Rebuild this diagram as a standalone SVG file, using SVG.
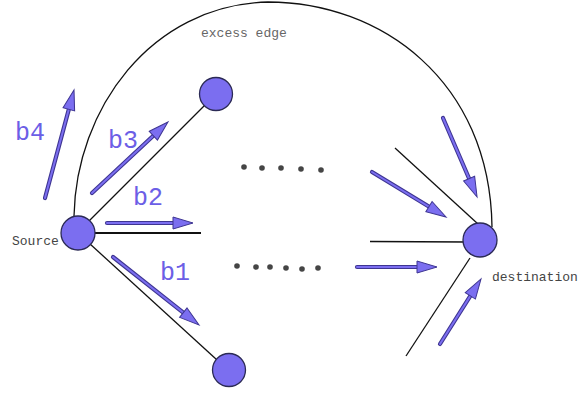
<svg xmlns="http://www.w3.org/2000/svg" width="581" height="393" viewBox="0 0 581 393">
<style>
.node{fill:#7b6ef0;stroke:#2b2a55;stroke-width:1.3}
.edge{fill:none;stroke:#111;stroke-width:1.3}
.shaft{stroke:#3e3592;stroke-width:4.2;stroke-linecap:round}
.inner{stroke:#7b6ef0;stroke-width:2;stroke-linecap:round}
.lbl{font-family:"Liberation Mono","DejaVu Sans Mono",monospace;font-size:25px;fill:#6c5ee6}
.txt{font-family:"Liberation Mono","DejaVu Sans Mono",monospace;font-size:13px;fill:#444}
.dot{fill:#454545}
</style>
<defs>
<marker id="head" markerUnits="userSpaceOnUse" markerWidth="22" markerHeight="14" viewBox="-1 -1 22 14" refX="8" refY="6" orient="auto" overflow="visible">
<path d="M0,0 L20,6 L0,12 Z" fill="#7b6ef0" stroke="#3e3592" stroke-width="1"/>
</marker>
</defs>
<rect width="581" height="393" fill="#fff"/>
<g id="connectors">
<path class="edge" d="M74,216 C76,110 150,5 268,2 C380,2 490,80 492,227"/>
<line class="edge" x1="78" y1="232" x2="216" y2="94"/>
<line class="edge" x1="78" y1="233" x2="228" y2="370"/>
<line class="edge" x1="95" y1="233" x2="201" y2="233" style="stroke-width:2.2"/>
<line class="edge" x1="395" y1="148" x2="478" y2="224"/>
<line class="edge" x1="370" y1="241.5" x2="468" y2="242"/>
<line class="edge" x1="406" y1="356" x2="470" y2="258"/>
</g>
<g id="arrows">
<line class="shaft" x1="45" y1="198" x2="70.9" y2="101.6"/>
<line class="inner" x1="45" y1="198" x2="70.9" y2="101.6" marker-end="url(#head)"/>
<line class="shaft" x1="92" y1="193" x2="159.2" y2="130.2"/>
<line class="inner" x1="92" y1="193" x2="159.2" y2="130.2" marker-end="url(#head)"/>
<line class="shaft" x1="107" y1="223" x2="181" y2="223"/>
<line class="inner" x1="107" y1="223" x2="181" y2="223" marker-end="url(#head)"/>
<line class="shaft" x1="113" y1="257" x2="189.6" y2="317.6"/>
<line class="inner" x1="113" y1="257" x2="189.6" y2="317.6" marker-end="url(#head)"/>
<line class="shaft" x1="443" y1="118" x2="472.3" y2="186"/>
<line class="inner" x1="443" y1="118" x2="472.3" y2="186" marker-end="url(#head)"/>
<line class="shaft" x1="372" y1="172" x2="435.8" y2="210.8"/>
<line class="inner" x1="372" y1="172" x2="435.8" y2="210.8" marker-end="url(#head)"/>
<line class="shaft" x1="357" y1="267" x2="425" y2="267"/>
<line class="inner" x1="357" y1="267" x2="425" y2="267" marker-end="url(#head)"/>
<line class="shaft" x1="440" y1="344" x2="474.6" y2="289.1"/>
<line class="inner" x1="440" y1="344" x2="474.6" y2="289.1" marker-end="url(#head)"/>
</g>
<g id="source"><circle class="node" cx="78" cy="233" r="17"/><text class="txt" x="12" y="245">Source</text></g>
<g id="top-node"><circle class="node" cx="216" cy="94" r="16.5"/></g>
<g id="bottom-node"><circle class="node" cx="229" cy="370" r="16.5"/></g>
<g id="destination"><circle class="node" cx="480" cy="240" r="17"/><text class="txt" x="492" y="281">destination</text></g>
<g id="labels">
<text class="lbl" x="15" y="140">b4</text>
<text class="lbl" x="108" y="148">b3</text>
<text class="lbl" x="133" y="205">b2</text>
<text class="lbl" x="160" y="280">b1</text>
<text class="txt" x="201" y="37" style="fill:#666">excess edge</text>
</g>
<g id="dots">
<circle class="dot" cx="244" cy="167" r="2.8"/>
<circle class="dot" cx="262" cy="168" r="2.8"/>
<circle class="dot" cx="281" cy="168" r="2.8"/>
<circle class="dot" cx="301" cy="169" r="2.8"/>
<circle class="dot" cx="321" cy="170" r="2.8"/>
<circle class="dot" cx="237" cy="266" r="2.8"/>
<circle class="dot" cx="256" cy="267" r="2.8"/>
<circle class="dot" cx="270" cy="267" r="2.8"/>
<circle class="dot" cx="286" cy="268" r="2.8"/>
<circle class="dot" cx="302" cy="269" r="2.8"/>
<circle class="dot" cx="318" cy="268" r="2.8"/>
</g>
</svg>
